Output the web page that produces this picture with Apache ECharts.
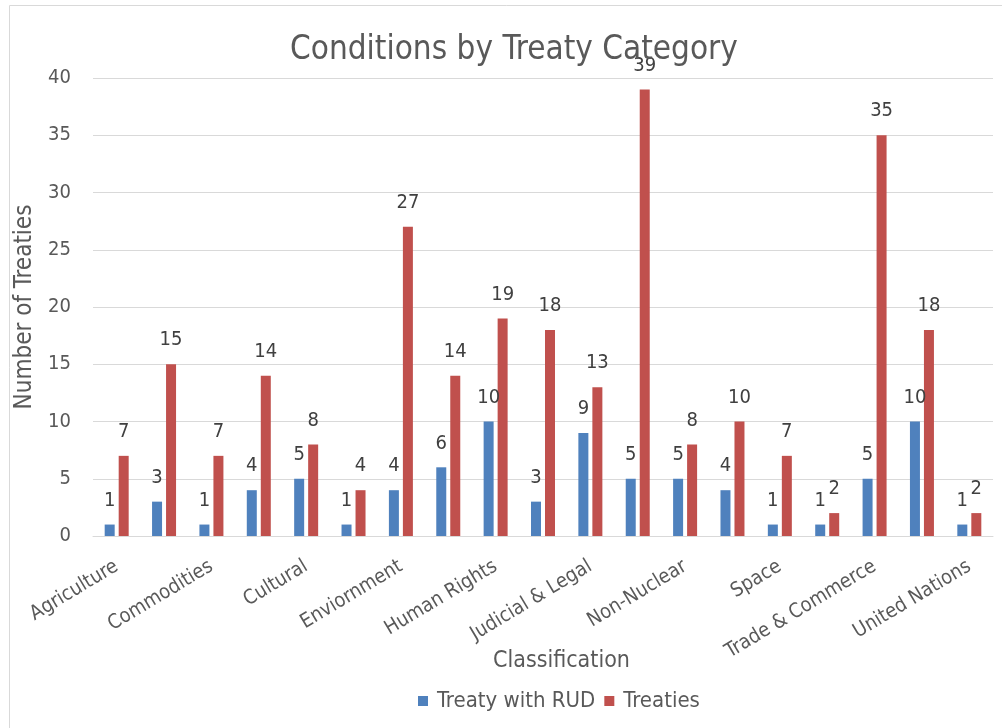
<!DOCTYPE html>
<html>
<head>
<meta charset="utf-8">
<script src="https://cdn.jsdelivr.net/npm/echarts@6/dist/echarts.min.js"></script>
<style>html,body{margin:0;padding:0;background:#fff;}#c{width:1002px;height:728px;}</style>
</head>
<body>
<div id="c"></div>
<script>
const categories = ["Agriculture","","Commodities","","Cultural","","Enviornment","","Human Rights","","Judicial & Legal","","Non-Nuclear","","Space","","Trade & Commerce","","United Nations"];
const treatyWithRUD = [1,3,1,4,5,1,4,6,10,3,9,5,5,4,1,1,5,10,1];
const treaties = [7,15,7,14,8,4,27,14,19,18,13,39,8,10,7,2,35,18,2];
const yTicks = [0,5,10,15,20,25,30,35,40];

const FONT = "'DejaVu Sans Condensed', sans-serif";
const chart = echarts.init(document.getElementById('c'), null, {renderer:'canvas'});
chart.setOption({
  animation:false,
  textStyle:{fontFamily:FONT},
  graphic:[
    {type:'rect',shape:{x:9.5,y:5.5,width:1000,height:730},style:{fill:'none',stroke:'#d9d9d9',lineWidth:1}},
    {type:'text',left:493,top:650,style:{text:'Classification',font:"23px 'DejaVu Sans Condensed', sans-serif",fill:'#595959'}}
  ],
  title:{text:'Conditions by Treaty Category',left:285,top:29,textStyle:{fontFamily:FONT,fontSize:33,fontWeight:'normal',color:'#595959'}},
  legend:{left:413,top:685,itemWidth:10,itemHeight:10,itemGap:9,icon:'rect',textStyle:{fontFamily:FONT,fontSize:22,color:'#595959',padding:[0,0,0,4]}},
  grid:{left:93,right:9,top:78,bottom:192,containLabel:false},
  xAxis:{type:'category',data:categories,
    axisTick:{show:false},axisLine:{lineStyle:{color:'#d9d9d9',width:1}},
    axisLabel:{interval:0,rotate:31,fontFamily:FONT,fontSize:20,color:'#595959',margin:29}},
  yAxis:{type:'value',min:yTicks[0],max:yTicks[yTicks.length-1],interval:5,name:'Number of Treaties',nameLocation:'middle',nameGap:51,
    nameTextStyle:{fontFamily:FONT,fontSize:24,color:'#595959'},
    axisLabel:{fontFamily:FONT,fontSize:20,color:'#595959',margin:22},
    axisLine:{show:false},axisTick:{show:false},splitLine:{lineStyle:{color:'#d9d9d9',width:1}}},
  series:[
    {name:'Treaty with RUD',type:'bar',data:treatyWithRUD,barWidth:10,barGap:'40%',itemStyle:{color:'#4F81BD'},
     label:{show:true,position:'top',distance:14,fontFamily:FONT,fontSize:20,color:'#404040'}},
    {name:'Treaties',type:'bar',data:treaties,barWidth:10,itemStyle:{color:'#C0504D'},
     label:{show:true,position:'top',distance:14,fontFamily:FONT,fontSize:20,color:'#404040'}}
  ]
});
</script>
</body>
</html>
